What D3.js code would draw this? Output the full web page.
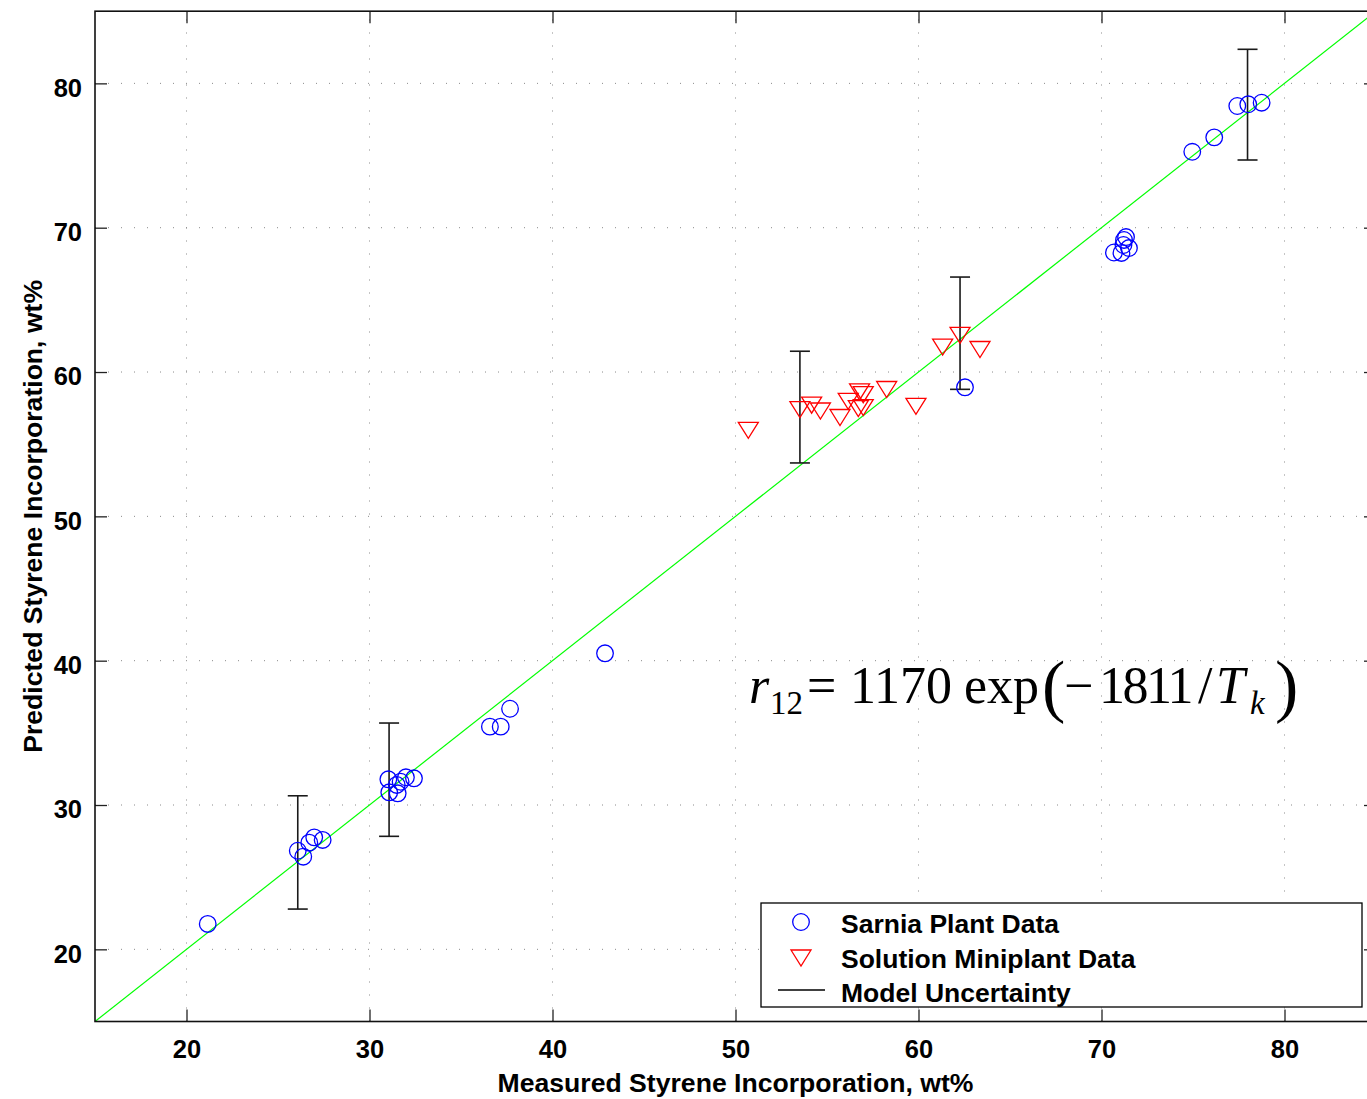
<!DOCTYPE html>
<html>
<head>
<meta charset="utf-8">
<script src="https://cdn.jsdelivr.net/npm/d3@7"></script>
<style>
  html, body { margin: 0; padding: 0; background: #fff; overflow: hidden; }
  svg { display: block; }
</style>
</head>
<body>
<svg id="chart" width="1367" height="1099"></svg>
<script>
// ---------------- data ----------------
const xTicks = [20, 30, 40, 50, 60, 70, 80];
const yTicks = [20, 30, 40, 50, 60, 70, 80];

const sarniaX = [21.16, 26.08, 26.38, 26.71, 26.98, 27.44,
                 31.03, 31.08, 31.54, 31.49, 31.70, 31.99, 32.43,
                 36.58, 37.17, 37.68, 42.87, 62.54,
                 70.68, 71.09, 71.20, 71.34, 71.50, 71.23,
                 74.96, 76.16, 77.42, 78.02, 78.75];
const sarniaY = [21.76, 26.83, 26.42, 27.39, 27.76, 27.58,
                 31.78, 30.88, 30.81, 31.39, 31.61, 31.92, 31.85,
                 35.43, 35.43, 36.67, 40.51, 58.94,
                 68.28, 68.25, 68.80, 69.35, 68.59, 69.15,
                 75.26, 76.26, 78.43, 78.55, 78.66];

const miniX = [50.70, 53.52, 54.16, 54.64, 55.71, 56.16, 56.71, 56.98,
               56.78, 56.98, 58.26, 59.86, 61.32, 62.27, 63.36];
const miniY = [55.96, 57.40, 57.70, 57.30, 56.85, 57.97, 57.47, 57.54,
               58.62, 58.43, 58.79, 57.62, 61.73, 62.54, 61.56];

const errX    = [26.08, 31.07, 53.52, 62.27, 77.98];
const errLow  = [22.79, 27.83, 53.70, 58.80, 74.69];
const errHigh = [30.64, 35.68, 61.44, 66.58, 82.36];

const parityLine = [15, 85];

const legendLabels = ["Sarnia Plant Data", "Solution Miniplant Data", "Model Uncertainty"];
const xTitle = "Measured Styrene Incorporation, wt%";
const yTitle = "Predicted Styrene Incorporation, wt%";

// ---------------- layout ----------------
const svg = d3.select("#chart");
const L = 95, R = 1376, T = 11.2, B = 1021.5;
const x = d3.scaleLinear().domain([15, 85]).range([L, R]);
const y = d3.scaleLinear().domain([15, 85]).range([B, T]);
const font = "'Liberation Sans', Arial, Helvetica, sans-serif";

// grid
const grid = svg.append("g");
grid.selectAll("line.gx").data(xTicks).enter().append("line")
  .attr("x1", d => x(d)).attr("x2", d => x(d)).attr("y1", B).attr("y2", T)
  .attr("stroke", "#8a8a8a").attr("stroke-width", 1).attr("stroke-dasharray", "1,12");
grid.selectAll("line.gy").data(yTicks).enter().append("line")
  .attr("y1", d => y(d)).attr("y2", d => y(d)).attr("x1", L).attr("x2", R)
  .attr("stroke", "#8a8a8a").attr("stroke-width", 1).attr("stroke-dasharray", "1,12");

// axes (inner ticks on all four sides)
function styleAxis(g) {
  g.select(".domain").remove();
  g.selectAll(".tick line").attr("stroke", "#222").attr("stroke-width", 1.3);
  g.selectAll(".tick text").attr("font-family", font).attr("font-weight", "bold")
    .attr("font-size", 25.5).attr("fill", "#000");
}
svg.append("g").attr("transform", `translate(0,${B})`)
  .call(d3.axisBottom(x).tickValues(xTicks).tickFormat(d3.format("d"))
        .tickSizeInner(-12).tickSizeOuter(0).tickPadding(18))
  .call(styleAxis);
svg.append("g").attr("transform", `translate(0,${T})`)
  .call(d3.axisTop(x).tickValues(xTicks).tickFormat("").tickSizeInner(-12).tickSizeOuter(0))
  .call(styleAxis);
const yAx = svg.append("g").attr("transform", `translate(${L},0)`)
  .call(d3.axisLeft(y).tickValues(yTicks).tickFormat(d3.format("d"))
        .tickSizeInner(-12).tickSizeOuter(0).tickPadding(13))
  .call(styleAxis);
yAx.selectAll(".tick text").attr("dy", "0.5em");
svg.append("g").attr("transform", `translate(${R},0)`)
  .call(d3.axisRight(y).tickValues(yTicks).tickFormat("").tickSizeInner(-12).tickSizeOuter(0))
  .call(styleAxis);

// parity line
svg.append("line")
  .attr("x1", x(parityLine[0])).attr("y1", y(parityLine[0]))
  .attr("x2", x(parityLine[1])).attr("y2", y(parityLine[1]))
  .attr("stroke", "#00ff00").attr("stroke-width", 1.2);

// error bars
const eb = svg.append("g").attr("stroke", "#1a1a1a").attr("stroke-width", 1.6);
errX.forEach((ex, i) => {
  const px = x(ex);
  eb.append("line").attr("x1", px).attr("x2", px).attr("y1", y(errLow[i])).attr("y2", y(errHigh[i]));
  eb.append("line").attr("x1", px - 10).attr("x2", px + 10).attr("y1", y(errLow[i])).attr("y2", y(errLow[i]));
  eb.append("line").attr("x1", px - 10).attr("x2", px + 10).attr("y1", y(errHigh[i])).attr("y2", y(errHigh[i]));
});

// markers
const triPath = "M-10,-8L10,-8L0,8Z";
svg.append("g").selectAll("circle").data(sarniaX).enter().append("circle")
  .attr("cx", d => x(d)).attr("cy", (d, i) => y(sarniaY[i])).attr("r", 8.3)
  .attr("fill", "none").attr("stroke", "#0000ff").attr("stroke-width", 1.3);
svg.append("g").selectAll("path").data(miniX).enter().append("path")
  .attr("d", triPath)
  .attr("transform", (d, i) => `translate(${x(d)},${y(miniY[i])})`)
  .attr("fill", "none").attr("stroke", "#ff0000").attr("stroke-width", 1.3);

// frame
svg.append("rect").attr("x", L).attr("y", T).attr("width", R - L).attr("height", B - T)
  .attr("fill", "none").attr("stroke", "#111").attr("stroke-width", 1.6);

// axis titles
svg.append("text").attr("x", (L + R) / 2).attr("y", 1092)
  .attr("text-anchor", "middle").attr("font-family", font).attr("font-weight", "bold")
  .attr("font-size", 26.6).text(xTitle);
svg.append("text").attr("transform", `translate(42,${(T + B) / 2}) rotate(-90)`)
  .attr("text-anchor", "middle").attr("font-family", font).attr("font-weight", "bold")
  .attr("font-size", 26.6).text(yTitle);

// legend
const lg = svg.append("g");
lg.append("rect").attr("x", 761).attr("y", 903).attr("width", 601).attr("height", 104)
  .attr("fill", "#fff").attr("stroke", "#000").attr("stroke-width", 1.3);
lg.append("circle").attr("cx", 801).attr("cy", 922).attr("r", 8.3)
  .attr("fill", "none").attr("stroke", "#0000ff").attr("stroke-width", 1.3);
lg.append("path").attr("d", triPath).attr("transform", "translate(801,958)")
  .attr("fill", "none").attr("stroke", "#ff0000").attr("stroke-width", 1.3);
lg.append("line").attr("x1", 778).attr("x2", 825).attr("y1", 990).attr("y2", 990)
  .attr("stroke", "#000").attr("stroke-width", 1.3);
legendLabels.forEach((t, i) => {
  lg.append("text").attr("x", 841).attr("y", 933 + i * 34.5)
    .attr("font-family", font).attr("font-weight", "bold").attr("font-size", 26.5).text(t);
});

// equation
const serif = "'Liberation Serif', 'Times New Roman', Times, serif";
const eq = svg.append("g").attr("font-family", serif).attr("fill", "#000");
const base = 703;
function piece(txt, px, size, opts = {}) {
  const t = eq.append("text").attr("x", px).attr("y", opts.y || base).attr("font-size", size).text(txt);
  if (opts.italic) t.attr("font-style", "italic");
  if (opts.ls) t.attr("letter-spacing", opts.ls);
  return t;
}
piece("r", 749, 52, {italic: true});
piece("12", 770, 33, {y: 714});
piece("=", 807, 52);
piece("1170", 850, 52);
piece("exp", 964, 52);
piece("(", 1042, 70, {y: 709});
piece("\u2212", 1064, 52);
piece("1811", 1099, 52, {ls: -2.5});
piece("/", 1198, 52);
piece("T", 1216, 52, {italic: true});
piece("k", 1250, 33, {italic: true, y: 714});
piece(")", 1275, 70, {y: 709});
</script>
</body>
</html>
